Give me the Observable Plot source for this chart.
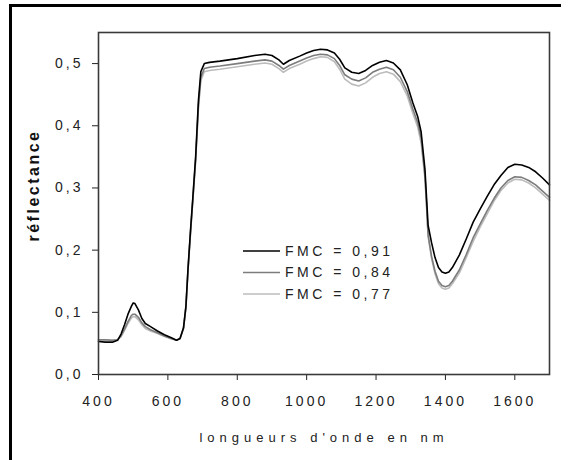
<!DOCTYPE html>
<html>
<head>
<meta charset="utf-8">
<script src="https://cdn.jsdelivr.net/npm/d3@7"></script>
<script src="https://cdn.jsdelivr.net/npm/@observablehq/plot@0.6"></script>
<style>
  html, body { margin: 0; padding: 0; background: #fff; }
  #wrap { position: relative; width: 571px; height: 460px; overflow: hidden; font-family: "Liberation Sans", Arial, sans-serif; }
  #border { position: absolute; left: 9px; top: 4px; width: 552px; height: 470px; border-top: 3px solid #000; border-left: 3px solid #000; box-sizing: border-box; pointer-events: none; }
  #legend { position: absolute; left: 0; top: 0; }
  g[aria-label="x-axis tick label"] text, g[aria-label="y-axis tick label"] text { letter-spacing: 3px; }
</style>
</head>
<body>
<div id="wrap"><div id="border"></div></div>
<script>
// wavelengths (nm)
const wavelengths = [
  400,420,440,455,465,475,485,495,500,505,
  515,525,535,550,570,590,610,625,635,645,
  652,658,665,672,680,688,695,705,720,750,
  800,850,880,900,920,933,950,980,1000,1020,
  1040,1060,1080,1095,1110,1130,1150,1170,1190,1210,
  1230,1250,1270,1290,1306,1320,1330,1341,1346,1350,
  1360,1370,1380,1390,1400,1410,1420,1440,1460,1480,
  1500,1520,1540,1560,1580,1600,1620,1640,1660,1680,
  1700];

// FMC = 0,91
const fmc091 = [
  0.053,0.052,0.052,0.055,0.065,0.080,0.097,0.110,0.115,0.114,
  0.104,0.090,0.082,0.077,0.070,0.064,0.059,0.055,0.058,0.075,
  0.110,0.170,0.230,0.285,0.350,0.440,0.487,0.500,0.502,0.504,
  0.508,0.513,0.515,0.513,0.506,0.499,0.505,0.512,0.517,0.521,
  0.523,0.522,0.517,0.507,0.493,0.486,0.484,0.489,0.497,0.502,
  0.505,0.501,0.490,0.466,0.437,0.415,0.390,0.330,0.280,0.240,
  0.212,0.188,0.172,0.165,0.163,0.165,0.172,0.192,0.218,0.245,
  0.266,0.286,0.305,0.320,0.333,0.338,0.337,0.333,0.326,0.316,
  0.305];

// FMC = 0,84
const fmc084 = [
  0.056,0.056,0.055,0.056,0.062,0.073,0.085,0.095,0.097,0.097,
  0.092,0.083,0.077,0.072,0.067,0.062,0.058,0.055,0.058,0.074,
  0.108,0.168,0.227,0.282,0.346,0.432,0.478,0.492,0.494,0.496,
  0.500,0.504,0.506,0.504,0.497,0.491,0.497,0.504,0.509,0.513,
  0.515,0.514,0.508,0.497,0.482,0.475,0.472,0.477,0.486,0.491,
  0.494,0.490,0.478,0.455,0.427,0.405,0.380,0.320,0.270,0.225,
  0.190,0.166,0.150,0.143,0.141,0.143,0.150,0.168,0.193,0.220,
  0.242,0.263,0.283,0.300,0.312,0.318,0.317,0.312,0.305,0.295,
  0.285];

// FMC = 0,77
const fmc077 = [
  0.055,0.055,0.055,0.056,0.061,0.071,0.082,0.091,0.093,0.093,
  0.088,0.080,0.074,0.070,0.066,0.061,0.057,0.055,0.058,0.074,
  0.107,0.167,0.225,0.280,0.343,0.428,0.473,0.487,0.489,0.491,
  0.495,0.499,0.501,0.499,0.492,0.486,0.492,0.499,0.504,0.508,
  0.511,0.510,0.503,0.491,0.475,0.467,0.464,0.469,0.478,0.484,
  0.487,0.483,0.471,0.448,0.420,0.398,0.372,0.315,0.265,0.222,
  0.187,0.162,0.146,0.139,0.137,0.139,0.146,0.163,0.188,0.214,
  0.237,0.258,0.279,0.296,0.308,0.314,0.313,0.308,0.300,0.290,
  0.280];

const seriesNames = ["FMC = 0,91", "FMC = 0,84", "FMC = 0,77"];
const seriesColors = ["#000000", "#7c7c7c", "#bcbcbc"];
const xTicks = [400, 600, 800, 1000, 1200, 1400, 1600];
const yTicks = [0, 0.1, 0.2, 0.3, 0.4, 0.5];
const xTitle = "longueurs d'onde en nm";
const yTitle = "réflectance";

const seriesValues = [fmc091, fmc084, fmc077];
// draw lightest first so the black curve sits on top
const rows = [];
[2, 1, 0].forEach(i => {
  wavelengths.forEach((w, j) => rows.push({wl: w, r: seriesValues[i][j], s: seriesNames[i]}));
});

const W = 571, H = 460, mL = 98, mR = 22, mT = 32, mB = 86;

const chart = Plot.plot({
  width: W, height: H,
  marginLeft: mL, marginRight: mR, marginTop: mT, marginBottom: mB,
  style: {fontFamily: '"Liberation Sans", Arial, sans-serif', fontSize: "14px", color: "#222", background: "white"},
  x: {domain: [400, 1700], ticks: xTicks, tickSize: 6, tickPadding: 16, label: null,
      tickFormat: d => String(d)},
  y: {domain: [0, 0.55], ticks: yTicks, tickSize: 6, tickPadding: 9, label: null,
      tickFormat: d => d.toFixed(1).replace(".", ",")},
  color: {domain: seriesNames, range: seriesColors},
  marks: [
    Plot.line(rows, {x: "wl", y: "r", z: "s", stroke: "s", strokeWidth: 1.6, curve: "linear"}),
    Plot.frame({stroke: "#3a3a3a", strokeWidth: 1.6}),
    Plot.text([xTitle], {frameAnchor: "bottom", dy: 63, lineAnchor: "middle", textAnchor: "middle", fontSize: 13, fill: "#222"}),
    Plot.text([yTitle], {frameAnchor: "left", dx: -65, dy: -18, rotate: -90, lineAnchor: "middle", textAnchor: "middle", fontSize: 16, fontWeight: "bold", fill: "#111"})
  ]
});

d3.select(chart).selectAll("text").each(function() {
  const t = this.textContent;
  if (t === xTitle) this.style.letterSpacing = "5px";
  if (t === yTitle) this.style.letterSpacing = "2.5px";
});

const wrap = document.getElementById("wrap");
wrap.insertBefore(chart, wrap.firstChild);

// legend overlay (inside the plot area, as in the reference)
const leg = d3.select(wrap).append("svg").attr("id", "legend").attr("width", W).attr("height", H);
const legX0 = 243, legX1 = 280, legY0 = 251, legStep = 21.5;
seriesNames.forEach((name, i) => {
  const y = legY0 + i * legStep;
  leg.append("line").attr("x1", legX0).attr("x2", legX1).attr("y1", y).attr("y2", y)
    .attr("stroke", seriesColors[i]).attr("stroke-width", 1.6);
  leg.append("text").attr("x", legX1 + 5).attr("y", y).attr("dy", "0.35em")
    .attr("font-family", '"Liberation Sans", Arial, sans-serif').attr("font-size", 14)
    .attr("fill", "#222").style("letter-spacing", "3.5px").text(name);
});
</script>
</body>
</html>
